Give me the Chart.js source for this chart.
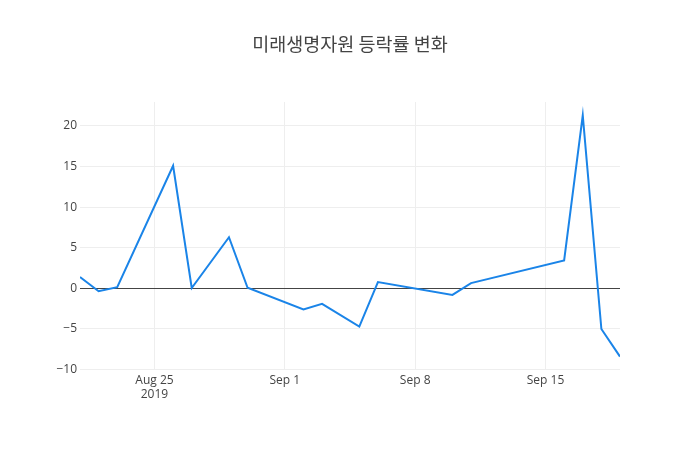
<!DOCTYPE html>
<html>
<head>
<meta charset="utf-8">
<script src="https://cdn.jsdelivr.net/npm/chart.js@4"></script>
<style>
html,body{margin:0;padding:0;background:#fff;}
#wrap{width:700px;height:450px;}
</style>
</head>
<body>
<div id="wrap"><canvas id="c" width="700" height="450"></canvas></div>
<script>
const titleText = '미래생명자원 등락률 변화';
const dates = ['2019-08-21','2019-08-22','2019-08-23','2019-08-26','2019-08-27','2019-08-29','2019-08-30',
  '2019-09-02','2019-09-03','2019-09-05','2019-09-06','2019-09-10','2019-09-11',
  '2019-09-16','2019-09-17','2019-09-18','2019-09-19'];
const changes = [1.4,-0.35,0.15,15.1,0.05,6.3,0.08,-2.6,-1.9,-4.7,0.77,-0.8,0.65,3.45,21.3,-5.0,-8.4];
const xTickDates = ['2019-08-25','2019-09-01','2019-09-08','2019-09-15'];
const xTickLabels = [['Aug 25','2019'],['Sep 1'],['Sep 8'],['Sep 15']];
const yTicks = [-10,-5,0,5,10,15,20];

function dayNum(s){const p=s.split('-').map(Number);return Date.UTC(p[0],p[1]-1,p[2])/86400000;}
const xs = dates.map(dayNum);
const xTickVals = xTickDates.map(dayNum);

new Chart(document.getElementById('c'), {
  type: 'line',
  data: {
    datasets: [{
      data: xs.map((x,i)=>({x:x,y:changes[i]})),
      borderColor: '#1a84e8',
      borderWidth: 2,
      pointRadius: 0,
      tension: 0,
      fill: false
    }]
  },
  options: {
    responsive: false,
    animation: false,
    layout: {padding: 0},
    plugins: {
      legend: {display: false},
      tooltip: {enabled: false},
      title: {
        display: true,
        text: titleText,
        color: '#444',
        font: {family: '"Noto Sans CJK KR","Open Sans",sans-serif', size: 18.5, weight: 'normal', lineHeight: 1.2},
        padding: {top: 33, bottom: 46.8}
      }
    },
    scales: {
      x: {
        type: 'linear',
        min: xs[0],
        max: xs[xs.length-1],
        afterBuildTicks: s => { s.ticks = xTickVals.map(v=>({value:v})); },
        afterFit: s => { s.height = 80; },
        ticks: {
          autoSkip: false,
          maxRotation: 0,
          padding: 3,
          color: '#444',
          font: {family: '"Open Sans",sans-serif', size: 12},
          callback: (v) => { const i = xTickVals.indexOf(v); return i>=0 ? xTickLabels[i] : ''; }
        },
        grid: {color: '#eee', drawTicks: false, lineWidth: 1},
        border: {display: false}
      },
      y: {
        min: -10.05,
        max: 22.95,
        afterBuildTicks: s => { s.ticks = yTicks.map(v=>({value:v})); },
        afterFit: s => { s.width = 80; },
        ticks: {
          padding: 3,
          color: '#444',
          font: {family: '"Open Sans",sans-serif', size: 12},
          callback: v => String(v).replace('-', '\u2212')
        },
        grid: {
          drawTicks: false,
          color: c => (c.tick && c.tick.value === 0) ? '#444' : '#eee',
          lineWidth: 1
        },
        border: {display: false}
      },
      yRight: {
        position: 'right',
        min: -10.05,
        max: 22.95,
        afterFit: s => { s.width = 80; },
        ticks: {display: false},
        grid: {display: false, drawOnChartArea: false},
        border: {display: false}
      }
    }
  }
});
</script>
</body>
</html>
